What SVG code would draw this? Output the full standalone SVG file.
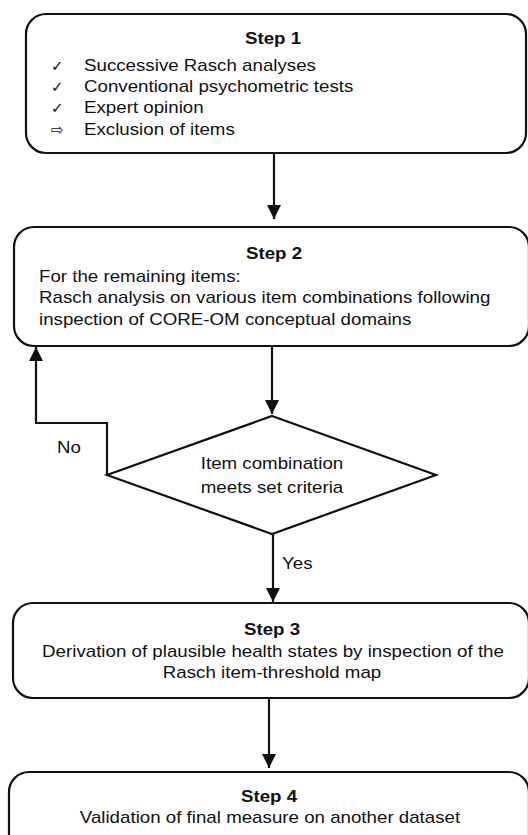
<svg xmlns="http://www.w3.org/2000/svg" width="528" height="835" viewBox="0 0 528 835">
<defs>
<marker id="arr" markerUnits="userSpaceOnUse" markerWidth="14" markerHeight="14" refX="14" refY="7" orient="auto">
<path d="M0,0 L14,7 L0,14 Z" fill="#111"/>
</marker>
<style>
.box{fill:#fff;stroke:#111;stroke-width:2.2}
.ln{fill:none;stroke:#111;stroke-width:2.2}
text{font-family:"Liberation Sans",Arial,sans-serif;font-size:16px;fill:#111}
.b{font-weight:bold}
.m{text-anchor:middle}
.sym{font-family:"DejaVu Sans",sans-serif;font-size:15px}
</style>
</defs>
<rect width="528" height="835" fill="#fff"/>

<g id="connectors">
<line class="ln" x1="274" y1="153" x2="274" y2="219" marker-end="url(#arr)"/>
<line class="ln" x1="272" y1="346" x2="272" y2="414" marker-end="url(#arr)"/>
<line class="ln" x1="273" y1="534" x2="273" y2="602" marker-end="url(#arr)"/>
<line class="ln" x1="269" y1="698" x2="269" y2="768" marker-end="url(#arr)"/>
<polyline class="ln" points="107,475 107,423 36,423 36,347" marker-end="url(#arr)"/>
<text transform="translate(57,453) scale(1.17,1)">No</text>
<text transform="translate(282,569) scale(1.17,1)">Yes</text>
</g>

<g id="step1">
<rect class="box" x="26" y="14" width="500" height="139" rx="20"/>
<text class="b m" transform="translate(273,44) scale(1.17,1)">Step 1</text>
<text class="sym" x="51" y="71">✓</text>
<text class="sym" x="51" y="92">✓</text>
<text class="sym" x="51" y="113">✓</text>
<text class="sym" x="51" y="135">⇨</text>
<text transform="translate(84,71) scale(1.17,1)">Successive Rasch analyses</text>
<text transform="translate(84,92) scale(1.17,1)">Conventional psychometric tests</text>
<text transform="translate(84,113) scale(1.17,1)">Expert opinion</text>
<text transform="translate(84,135) scale(1.17,1)">Exclusion of items</text>
</g>

<g id="step2">
<rect class="box" x="14" y="227" width="515" height="119" rx="20"/>
<text class="b m" transform="translate(274,259) scale(1.17,1)">Step 2</text>
<text transform="translate(39,282) scale(1.17,1)">For the remaining items:</text>
<text transform="translate(39,303) scale(1.17,1)">Rasch analysis on various item combinations following</text>
<text transform="translate(39,325) scale(1.17,1)">inspection of CORE-OM conceptual domains</text>
</g>

<g id="decision">
<polygon class="box" points="272,416 436,475 272,534 107,475"/>
<text class="m" transform="translate(272,469) scale(1.17,1)">Item combination</text>
<text class="m" transform="translate(272,493) scale(1.17,1)">meets set criteria</text>
</g>

<g id="step3">
<rect class="box" x="13" y="603" width="516" height="95" rx="20"/>
<text class="b m" transform="translate(272,635) scale(1.17,1)">Step 3</text>
<text class="m" transform="translate(273,657) scale(1.17,1)">Derivation of plausible health states by inspection of the</text>
<text class="m" transform="translate(272,678) scale(1.17,1)">Rasch item-threshold map</text>
</g>

<g id="step4">
<rect class="box" x="9" y="772" width="520" height="90" rx="20"/>
<text class="b m" transform="translate(269,802) scale(1.17,1)">Step 4</text>
<text class="m" transform="translate(270,823) scale(1.17,1)">Validation of final measure on another dataset</text>
</g>
</svg>
